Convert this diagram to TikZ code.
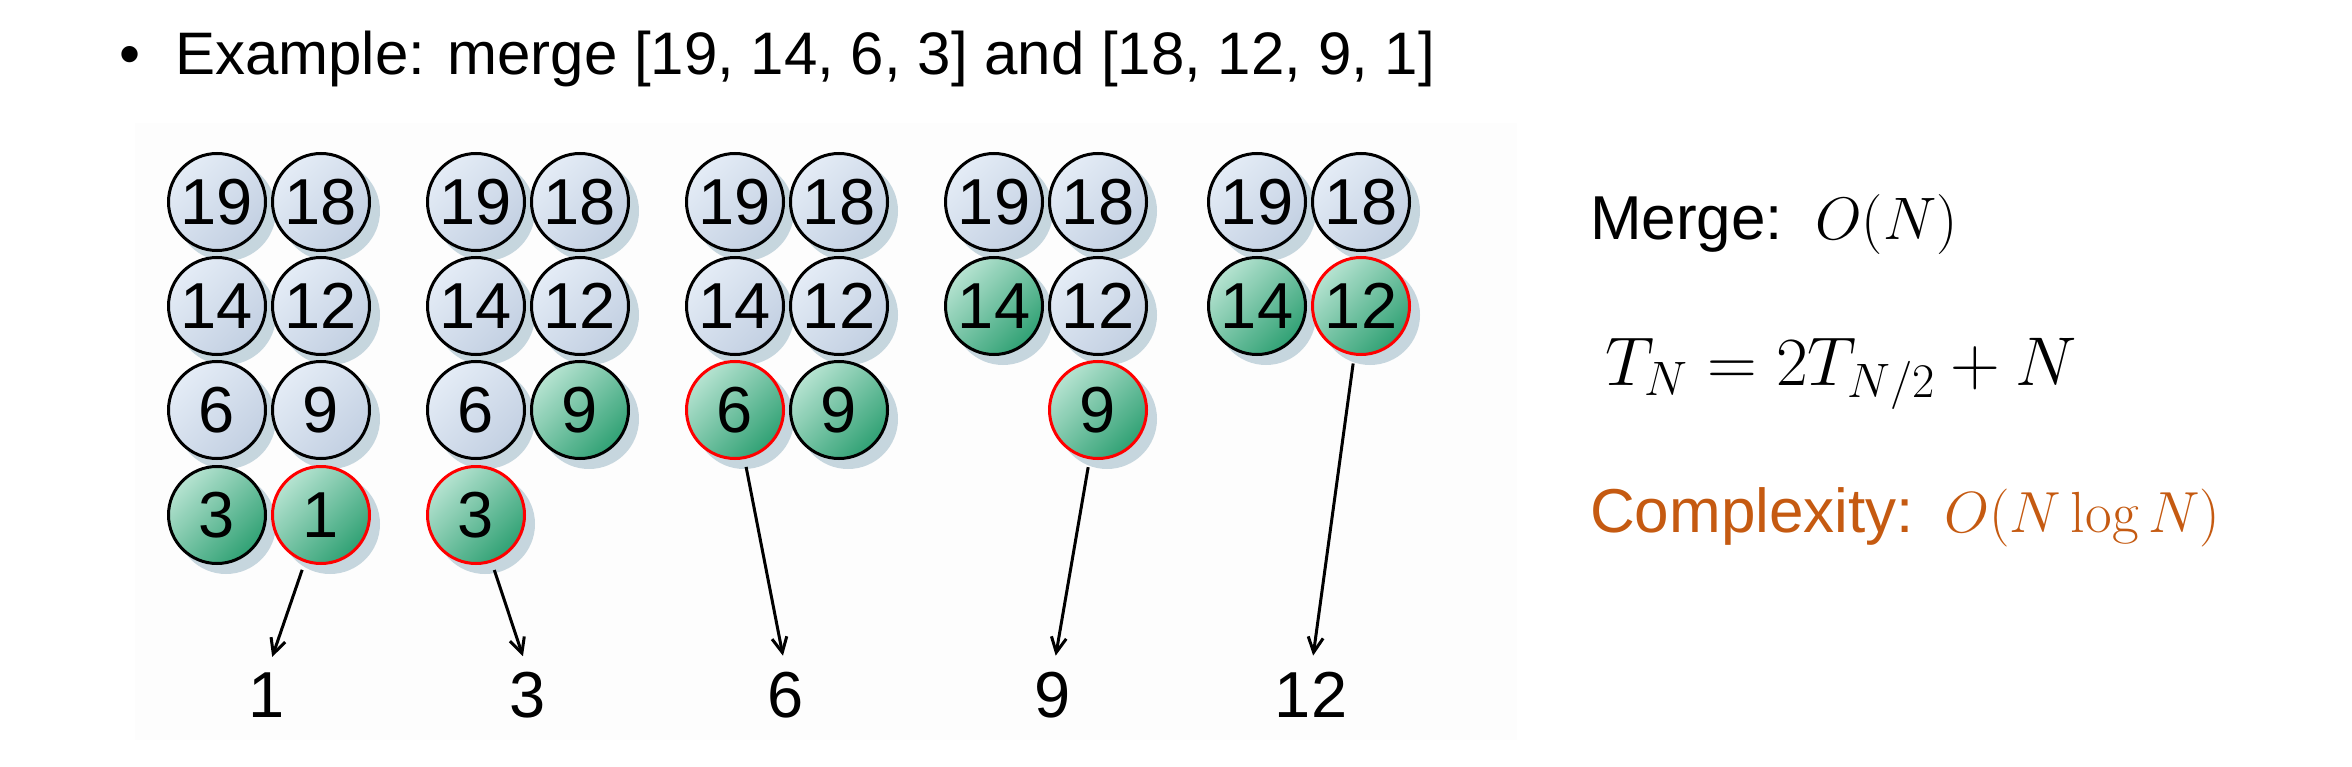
\RequirePackage{fix-cm}
\documentclass[tikz,border=0pt]{standalone}
\usepackage{fontspec}
\newfontfamily\arial{Liberation Sans}
\usetikzlibrary{arrows.meta}
\definecolor{lbA}{HTML}{E4ECF6}
\definecolor{lbB}{HTML}{C3D0E2}
\definecolor{gA}{HTML}{B6E3D1}
\definecolor{gB}{HTML}{30A174}
\definecolor{shad}{HTML}{C6D6DE}
\definecolor{cplx}{HTML}{C55A11}
\definecolor{bgpanel}{HTML}{FDFDFD}
\pgfdeclareverticalshading{lightsh}{100bp}{color(0bp)=(lbB); color(25bp)=(lbB); color(75bp)=(lbA); color(100bp)=(lbA)}
\pgfdeclareverticalshading{greensh}{100bp}{color(0bp)=(gB); color(25bp)=(gB); color(75bp)=(gA); color(100bp)=(gA)}
\newcommand\mball[5]{%
  \fill[shad] (#3+9,#4+9) circle[radius=50pt];
  \node[#2] (#1) at (#3,#4) {#5};}
\begin{document}
\begin{tikzpicture}[x=1pt,y=-1pt,
  ball/.style={circle, minimum size=97pt, inner sep=0pt, line width=3pt, draw=black,
    font=\arial\fontsize{65}{70}\selectfont, shading angle=45},
  lightball/.style={ball, shading=lightsh},
  greenball/.style={ball, shading=greensh},
  hiball/.style={greenball, draw=red},
  lab/.style={anchor=base, inner sep=0pt, font=\arial\fontsize{65}{70}\selectfont},
  txt/.style={anchor=base west, inner sep=0pt, font=\arial\fontsize{62}{66}\selectfont},
  mth/.style={anchor=base west, inner sep=0pt, font=\fontsize{60}{64}\selectfont},
  arr/.style={line width=3pt, -{Straight Barb[length=15pt,width=15pt,line width=3pt]},
    shorten <=8pt, shorten >=16pt}]
\useasboundingbox (0,0) rectangle (2352,767);
\fill[white] (0,0) rectangle (2352,767);
\fill[bgpanel] (135,123) rectangle (1517,740);

% title
\node[font=\arial\fontsize{60}{64}\selectfont, inner sep=0pt, anchor=base] (bul) at (130,75) {\textbullet};
\node[txt, font=\arial\fontsize{60}{64}\selectfont] (title) at (175,75) {Example: merge [19, 14, 6, 3] and [18, 12, 9, 1]};

% group 1
\mball{g1a1}{lightball}{217}{202}{19}
\mball{g1b1}{lightball}{321}{202}{18}
\mball{g1a2}{lightball}{217}{306}{14}
\mball{g1b2}{lightball}{321}{306}{12}
\mball{g1a3}{lightball}{217}{410}{6}
\mball{g1b3}{lightball}{321}{410}{9}
\mball{g1a4}{greenball}{217}{515}{3}
\mball{g1b4}{hiball}{321}{515}{1}
% group 2
\mball{g2a1}{lightball}{476}{202}{19}
\mball{g2b1}{lightball}{580}{202}{18}
\mball{g2a2}{lightball}{476}{306}{14}
\mball{g2b2}{lightball}{580}{306}{12}
\mball{g2a3}{lightball}{476}{410}{6}
\mball{g2b3}{greenball}{580}{410}{9}
\mball{g2a4}{hiball}{476}{515}{3}
% group 3
\mball{g3a1}{lightball}{735}{202}{19}
\mball{g3b1}{lightball}{839}{202}{18}
\mball{g3a2}{lightball}{735}{306}{14}
\mball{g3b2}{lightball}{839}{306}{12}
\mball{g3a3}{hiball}{735}{410}{6}
\mball{g3b3}{greenball}{839}{410}{9}
% group 4
\mball{g4a1}{lightball}{994}{202}{19}
\mball{g4b1}{lightball}{1098}{202}{18}
\mball{g4a2}{greenball}{994}{306}{14}
\mball{g4b2}{lightball}{1098}{306}{12}
\mball{g4b3}{hiball}{1098}{410}{9}
% group 5
\mball{g5a1}{lightball}{1257}{202}{19}
\mball{g5b1}{lightball}{1361}{202}{18}
\mball{g5a2}{greenball}{1257}{306}{14}
\mball{g5b2}{hiball}{1361}{306}{12}

% output labels
\node[lab] (l1) at (267,717) {1};
\node[lab] (l2) at (528,717) {3};
\node[lab] (l3) at (786,717) {6};
\node[lab] (l4) at (1053,717) {9};
\node[lab] (l5) at (1311,717) {12};

\draw[arr] (g1b4) -- (l1.north);
\draw[arr] (g2a4) -- (l2.north);
\draw[arr] (g3a3) -- (l3.north);
\draw[arr] (g4b3) -- (l4.north);
\draw[arr] (g5b2) -- (l5.north);

% right side
\node[txt] (merge) at (1590,240) {Merge:};
\node[mth] (mergeO) at (1815,240) {$O(N)$};
\node[anchor=base west, inner sep=0pt, font=\fontsize{69}{72}\selectfont] (rec) at (1605,385) {$T_N = 2T_{N/2} + N$};
\node[txt, text=cplx] (cx) at (1590,532) {Complexity:};
\node[mth, text=cplx, font=\fontsize{58}{62}\selectfont] (cxO) at (1944,532) {$O(N\log N)$};
\end{tikzpicture}
\end{document}
